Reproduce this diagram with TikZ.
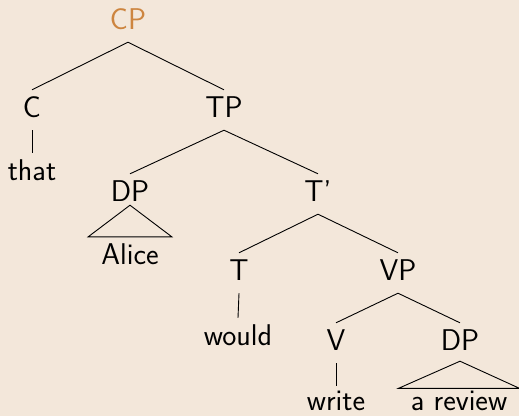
\documentclass[tikz,border=0pt]{standalone}
\usepackage{fontspec}
\definecolor{pagebg}{RGB}{243,231,218}
\definecolor{rootcol}{RGB}{205,133,63}
\begin{document}
\begin{tikzpicture}[x=1pt,y=-1pt,
  lbl/.style={anchor=base,inner xsep=0pt,inner ysep=6.5pt,
    text height=20.5pt,text depth=6.5pt,
    font=\sffamily\fontsize{30}{36}\selectfont},
  leaf/.style={lbl,inner ysep=0pt,text height=24pt,text depth=0pt},
  edge/.style={line width=0.9pt,black}]
\fill[pagebg] (0,0) rectangle (519,416);
\useasboundingbox (0,0) rectangle (519,416);

% phrase labels
\node[lbl,text=rootcol] (cp) at (128,29) {CP};
\node[lbl] (c)   at (32,117)  {C};
\node[lbl] (tp)  at (224,117) {TP};
\node[lbl] (that) at (32,180) {that};
\node[lbl] (dpa) at (130,201) {DP};
\node[lbl] (tbar) at (318,201) {T'};
\node[lbl] (alice) at (130,264) {Alice};
\node[lbl] (t)   at (239,280) {T};
\node[lbl] (vp)  at (398,280) {VP};
\node[lbl] (would) at (238,345) {would};
\node[lbl] (v)   at (336,350) {V};
\node[lbl] (dpb) at (460,350) {DP};
\node[leaf] (write) at (336,410) {write};
\node[leaf] (rev) at (459,410) {a review};

% branches
\draw[edge] (cp.south) -- (c.north);
\draw[edge] (cp.south) -- (tp.north);
\draw[edge] (c.south) -- (that.north);
\draw[edge] (tp.south) -- (dpa.north);
\draw[edge] (tp.south) -- (tbar.north);
\draw[edge] (tbar.south) -- (t.north);
\draw[edge] (tbar.south) -- (vp.north);
\draw[edge] (t.south) -- (would.north);
\draw[edge] (vp.south) -- (v.north);
\draw[edge] (vp.south) -- (dpb.north);
\draw[edge] (v.south) -- (write.north);

% roof triangles
\draw[edge] ([yshift=9pt]dpa.south) -- ([xshift=-13pt]alice.north west)
  -- ([xshift=13pt]alice.north east) -- cycle;
\draw[edge] ([yshift=2pt]dpb.south) -- ([xshift=-12pt,yshift=-2.5pt]rev.north west)
  -- ([xshift=12pt,yshift=-2.5pt]rev.north east) -- cycle;
\end{tikzpicture}
\end{document}
